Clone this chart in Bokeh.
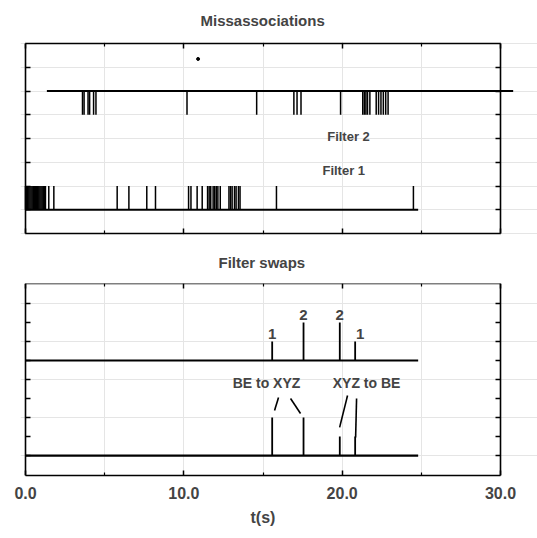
from bokeh.plotting import figure
from bokeh.layouts import column
from bokeh.models import Range1d, LinearAxis, FixedTicker, Label, PrintfTickFormatter, Title
from bokeh.embed import file_html
from bokeh.resources import INLINE

# ---------------- data ----------------
T_RANGE = (0.0, 30.0)
T_TICKS = [0, 10, 20, 30]
T_MINOR = [5, 15, 25]

# Missassociation events per filter (time in s)
filter1_times = [0.0, 0.07, 0.14, 0.21, 0.28, 0.35, 0.42, 0.49, 0.56, 0.63, 0.70,
                 0.77, 0.84, 0.91, 0.98, 1.05, 1.12, 1.19, 1.26, 1.47, 1.79,
                 5.79, 6.53, 7.66, 8.21, 10.3, 10.45, 10.84, 11.16,
                 11.5, 11.6, 11.7, 11.85, 11.95, 12.05, 12.15, 12.3,
                 12.85, 12.95, 13.05, 13.2, 13.3, 13.45, 13.55, 15.85, 24.5]
filter1_span = [0.0, 24.8]
filter1_level = 1
filter2_times = [3.6, 3.7, 3.95, 4.05, 4.3, 4.45, 10.2, 14.6, 16.95, 17.15, 17.4,
                 19.9, 21.3, 21.4, 21.5, 21.6, 21.75, 22.15, 22.3, 22.45, 22.6,
                 22.75, 22.9]
filter2_span = [1.35, 30.8]
filter2_level = 6
event_height = 1
speck = ([10.9], [7.35])
MISS_Y = (0, 8)

# Filter swaps
swap_times = [15.58, 17.56, 19.85, 20.82]
swap_filter = [1, 2, 2, 1]          # which filter was swapped
swap_direction = [2, 2, 1, 1]       # 2 = BE to XYZ, 1 = XYZ to BE
swap_span = [0.0, 24.8]
swap_levels = [5, 0]
SWAP_Y = (-1.05, 9.05)

FONT = "Liberation Sans"

# Both frames run from x=20 px to the right edge of the canvas, so that the
# Filter 2 trace can continue past its box; each box is drawn by four axes
# bounded to the data window.
px_per_t = 475 / (T_RANGE[1] - T_RANGE[0])
X_VIEW = (T_RANGE[0] - 5 / px_per_t, T_RANGE[1] + 37 / px_per_t)


def style_axis(axis, ticks, minor=(), labels=False):
    axis.ticker = FixedTicker(ticks=list(ticks), minor_ticks=list(minor))
    axis.major_tick_in = 5
    axis.major_tick_out = 0
    axis.minor_tick_in = 3
    axis.minor_tick_out = 0
    axis.major_tick_line_width = 1.5
    axis.minor_tick_line_width = 1.2
    axis.axis_line_width = 1.6
    if not labels:
        axis.major_label_overrides = {t: "" for t in ticks}
        axis.major_label_standoff = 0


def make_panel(height, y_view, y_box, border_top, border_bottom, title, title_left, standoff,
               y_ticks, bottom_labels=False):
    p = figure(width=537, height=height, x_range=Range1d(*X_VIEW), y_range=Range1d(*y_view),
               output_backend="svg", toolbar_location=None,
               x_axis_location=None, y_axis_location=None,
               min_border_left=20, min_border_right=0,
               min_border_top=border_top, min_border_bottom=border_bottom,
               title=title)
    p.title.align = "left"
    p.title.offset = title_left - 20
    p.title.standoff = standoff
    p.title.text_font = FONT
    p.title.text_font_size = "15px"
    p.title.text_font_style = "bold"
    p.outline_line_color = None
    above = LinearAxis(bounds=T_RANGE, fixed_location=y_box[1])
    style_axis(above, T_TICKS, T_MINOR)
    p.add_layout(above, "above")
    below = LinearAxis(bounds=T_RANGE)
    if not bottom_labels:
        below.fixed_location = y_box[0]
    style_axis(below, T_TICKS, T_MINOR, labels=bottom_labels)
    p.add_layout(below, "below")
    for side, loc in (("left", T_RANGE[0]), ("right", T_RANGE[1])):
        ax = LinearAxis(fixed_location=loc, bounds=y_box)
        style_axis(ax, y_ticks)
        p.add_layout(ax, side)
    return p


# ---------------- Missassociations ----------------
px_per_y = 190 / (MISS_Y[1] - MISS_Y[0])
top = make_panel(236, (MISS_Y[0] - 2 / px_per_y, MISS_Y[1] + 2 / px_per_y), MISS_Y,
                 41, 1, "Missassociations", 200, 22, range(1, 8))
top.title.vertical_align = "top"

top.segment(x0=[filter1_span[0]], y0=[filter1_level], x1=[filter1_span[1]], y1=[filter1_level],
            line_color="black", line_width=2.2)
top.segment(x0=filter1_times, y0=[filter1_level] * len(filter1_times),
            x1=filter1_times, y1=[filter1_level + event_height] * len(filter1_times),
            line_color="black", line_width=1.5)
top.segment(x0=[filter2_span[0]], y0=[filter2_level], x1=[filter2_span[1]], y1=[filter2_level],
            line_color="black", line_width=1.8)
top.segment(x0=filter2_times, y0=[filter2_level] * len(filter2_times),
            x1=filter2_times, y1=[filter2_level - event_height] * len(filter2_times),
            line_color="black", line_width=1.5)
top.scatter(x=speck[0], y=speck[1], size=3, color="black")

for txt, (tx, ty) in {"Filter 2": (20.4, 4.1), "Filter 1": (20.1, 2.65)}.items():
    top.add_layout(Label(x=tx, y=ty, text=txt, text_align="center", text_baseline="middle",
                         text_font=FONT, text_font_size="13px", text_font_style="bold"))

# ---------------- Filter swaps ----------------
bot = make_panel(302, SWAP_Y, SWAP_Y, 47, 63, "Filter swaps", 218, 26, range(0, 9),
                 bottom_labels=True)

xa = bot.below[0]
xa.formatter = PrintfTickFormatter(format="%.1f")
xa.major_label_text_font = FONT
xa.major_label_text_font_size = "16px"
xa.major_label_text_font_style = "bold"
xa.major_label_standoff = 11

# axis caption, centred under the 0-30 s window
bot.add_layout(Title(text="t(s)", align="left", offset=250 - 20, vertical_align="top",
                     standoff=14, text_font=FONT, text_font_size="16px",
                     text_font_style="bold"), "below")

for lvl in swap_levels:
    bot.segment(x0=[swap_span[0]], y0=[lvl], x1=[swap_span[1]], y1=[lvl],
                line_color="black", line_width=2.2)

n = len(swap_times)
upper, lower = swap_levels
bot.segment(x0=swap_times, y0=[upper] * n, x1=swap_times,
            y1=[upper + h for h in swap_filter], line_color="black", line_width=1.8)
bot.segment(x0=swap_times, y0=[lower] * n, x1=swap_times,
            y1=[lower + h for h in swap_direction], line_color="black", line_width=1.8)

for i, (t, f) in enumerate(zip(swap_times, swap_filter)):
    bot.add_layout(Label(x=t, y=upper + f, text=str(f), text_align="center",
                         text_baseline="bottom", y_offset=2, x_offset=(5 if i == 3 else 0),
                         text_font=FONT, text_font_size="15px", text_font_style="bold"))

bot.add_layout(Label(x=15.22, y=3.8, text="BE to XYZ", text_align="center", text_baseline="middle",
                     text_font=FONT, text_font_size="14px", text_font_style="bold"))
bot.add_layout(Label(x=21.54, y=3.8, text="XYZ to BE", text_align="center", text_baseline="middle",
                     text_font=FONT, text_font_size="14px", text_font_style="bold"))

# leader strokes from the captions down to the swap spikes
lead_top_t = [15.98, 16.74, 20.34, 20.91]
lead_top_y = [3.05, 3.0, 3.16, 3.0]
lead_end_t = [t + d for t, d in zip(swap_times, [0.15, -0.19, -0.01, 0.03])]
lead_end_y = [lower + h + g for h, g in zip(swap_direction, [0.37, 0.21, 0.48, -0.05])]
bot.segment(x0=lead_top_t, y0=lead_top_y, x1=lead_end_t, y1=lead_end_y,
            line_color="black", line_width=1.6)

layout = column(top, bot, spacing=0)
open("out.html", "w").write(file_html(layout, INLINE))
